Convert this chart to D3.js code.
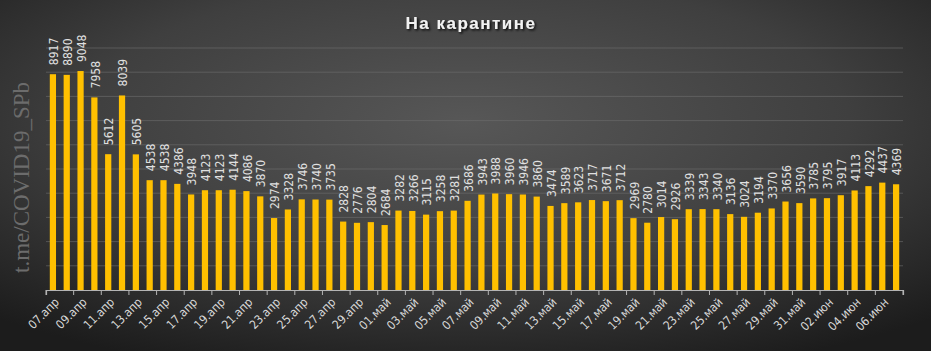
<!DOCTYPE html>
<html>
<head>
<meta charset="utf-8">
<script src="https://cdn.jsdelivr.net/npm/d3@7"></script>
<style>
  body { margin: 0; background: #2a2a2a; }
</style>
</head>
<body>
<div id="chart"></div>
<script>
// daily figures, 07.04 - 07.06
const dates = [
  "07.апр","08.апр","09.апр","10.апр","11.апр","12.апр","13.апр","14.апр","15.апр","16.апр",
  "17.апр","18.апр","19.апр","20.апр","21.апр","22.апр","23.апр","24.апр","25.апр","26.апр",
  "27.апр","28.апр","29.апр","30.апр",
  "01.май","02.май","03.май","04.май","05.май","06.май","07.май","08.май","09.май","10.май",
  "11.май","12.май","13.май","14.май","15.май","16.май","17.май","18.май","19.май","20.май",
  "21.май","22.май","23.май","24.май","25.май","26.май","27.май","28.май","29.май","30.май",
  "31.май",
  "01.июн","02.июн","03.июн","04.июн","05.июн","06.июн","07.июн"
];

const values = [
  8917, 8890, 9048, 7958, 5612, 8039, 5605, 4538, 4538, 4386,
  3948, 4123, 4123, 4144, 4086, 3870, 2974, 3328, 3746, 3740,
  3735, 2828, 2776, 2804, 2684, 3282, 3266, 3115, 3258, 3281,
  3686, 3943, 3988, 3960, 3946, 3860, 3474, 3589, 3623, 3717,
  3671, 3712, 2969, 2780, 3014, 2926, 3339, 3343, 3340, 3136,
  3024, 3194, 3370, 3656, 3590, 3785, 3795, 3917, 4113, 4292,
  4437, 4369
];

const gridValues = [1000, 2000, 3000, 4000, 5000, 6000, 7000, 8000, 9000, 10000];

const title = "На карантине";
const watermark = "t.me/COVID19_SPb";

const data = dates.map((d, i) => ({ date: d, value: values[i] }));

const w = 931, h = 351;
const margin = { top: 48, right: 28, bottom: 61, left: 46 };
const labelFont = "'Liberation Sans Narrow', 'DejaVu Sans Condensed', 'Open Sans', sans-serif";

const svg = d3.select("#chart").append("svg")
  .attr("width", w)
  .attr("height", h);

// background gradient + title shadow
const defs = svg.append("defs");
const bg = defs.append("radialGradient")
  .attr("id", "bg")
  .attr("cx", "50%").attr("cy", "35%").attr("r", "75%");
bg.append("stop").attr("offset", "0%").attr("stop-color", "#575757");
bg.append("stop").attr("offset", "55%").attr("stop-color", "#3f3f3f");
bg.append("stop").attr("offset", "100%").attr("stop-color", "#1c1c1c");

defs.append("filter").attr("id", "shadow")
  .append("feDropShadow")
  .attr("dx", 1.5).attr("dy", 1.5).attr("stdDeviation", 1)
  .attr("flood-color", "#000").attr("flood-opacity", 0.9);

svg.append("rect")
  .attr("width", w).attr("height", h)
  .attr("fill", "url(#bg)");

const x = d3.scaleBand()
  .domain(dates)
  .range([margin.left, w - margin.right])
  .paddingInner(0.55)
  .paddingOuter(0.275);

const y = d3.scaleLinear()
  .domain([0, 10000])
  .range([h - margin.bottom, margin.top]);

// gridlines
svg.append("g")
  .selectAll("line")
  .data(gridValues)
  .join("line")
  .attr("x1", margin.left)
  .attr("x2", w - margin.right)
  .attr("y1", d => y(d))
  .attr("y2", d => y(d))
  .attr("stroke", "#6e6e6e")
  .attr("stroke-opacity", 0.6)
  .attr("stroke-width", 1);

// watermark
svg.append("text")
  .attr("transform", `translate(29, 273) rotate(-90)`)
  .attr("font-family", "'Liberation Serif', 'DejaVu Serif', serif")
  .attr("font-size", 23)
  .attr("fill", "#6c6c6c")
  .text(watermark);

// bars
svg.append("g")
  .selectAll("rect")
  .data(data)
  .join("rect")
  .attr("x", d => x(d.date))
  .attr("y", d => y(d.value))
  .attr("width", x.bandwidth())
  .attr("height", d => y(0) - y(d.value))
  .attr("fill", "#ffc000");

// value labels
svg.append("g")
  .selectAll("text")
  .data(data)
  .join("text")
  .attr("transform", d => `translate(${x(d.date) + x.bandwidth() / 2 + 1}, ${y(d.value) - 9}) rotate(-90)`)
  .attr("dy", "0.35em")
  .attr("font-family", labelFont)
  .attr("font-size", 12)
  .attr("fill", "#e0e0e0")
  .text(d => d.value);

// x axis: ticks at band boundaries, every other day
const shown = dates.filter((d, i) => i % 2 === 0);
const xAxis = d3.axisBottom(x).tickValues(shown).tickSize(5).tickFormat("");

const gx = svg.append("g")
  .attr("transform", `translate(0, ${y(0)})`)
  .call(xAxis);

gx.select(".domain").attr("stroke", "#b4b4b4").attr("stroke-width", 1.2);

gx.selectAll(".tick line")
  .attr("x1", -x.step() / 2)
  .attr("x2", -x.step() / 2)
  .attr("stroke", "#b4b4b4");

gx.append("line")
  .attr("x1", w - margin.right).attr("x2", w - margin.right)
  .attr("y2", 5)
  .attr("stroke", "#b4b4b4");

// rotated date labels
svg.append("g")
  .selectAll("text")
  .data(shown)
  .join("text")
  .attr("transform", d => `translate(${x(d) + x.bandwidth() / 2 + 4}, ${y(0) + 10}) rotate(-45)`)
  .attr("text-anchor", "end")
  .attr("dy", "0.35em")
  .attr("font-family", labelFont)
  .attr("font-size", 12)
  .attr("fill", "#d8d8d8")
  .text(d => d);

// title
svg.append("text")
  .attr("x", 471)
  .attr("y", 29)
  .attr("text-anchor", "middle")
  .attr("font-family", "'Liberation Sans', Arial, sans-serif")
  .attr("font-weight", "bold")
  .attr("font-size", 17)
  .attr("letter-spacing", "1.5px")
  .attr("fill", "#f2f2f2")
  .attr("filter", "url(#shadow)")
  .text(title);
</script>
</body>
</html>
